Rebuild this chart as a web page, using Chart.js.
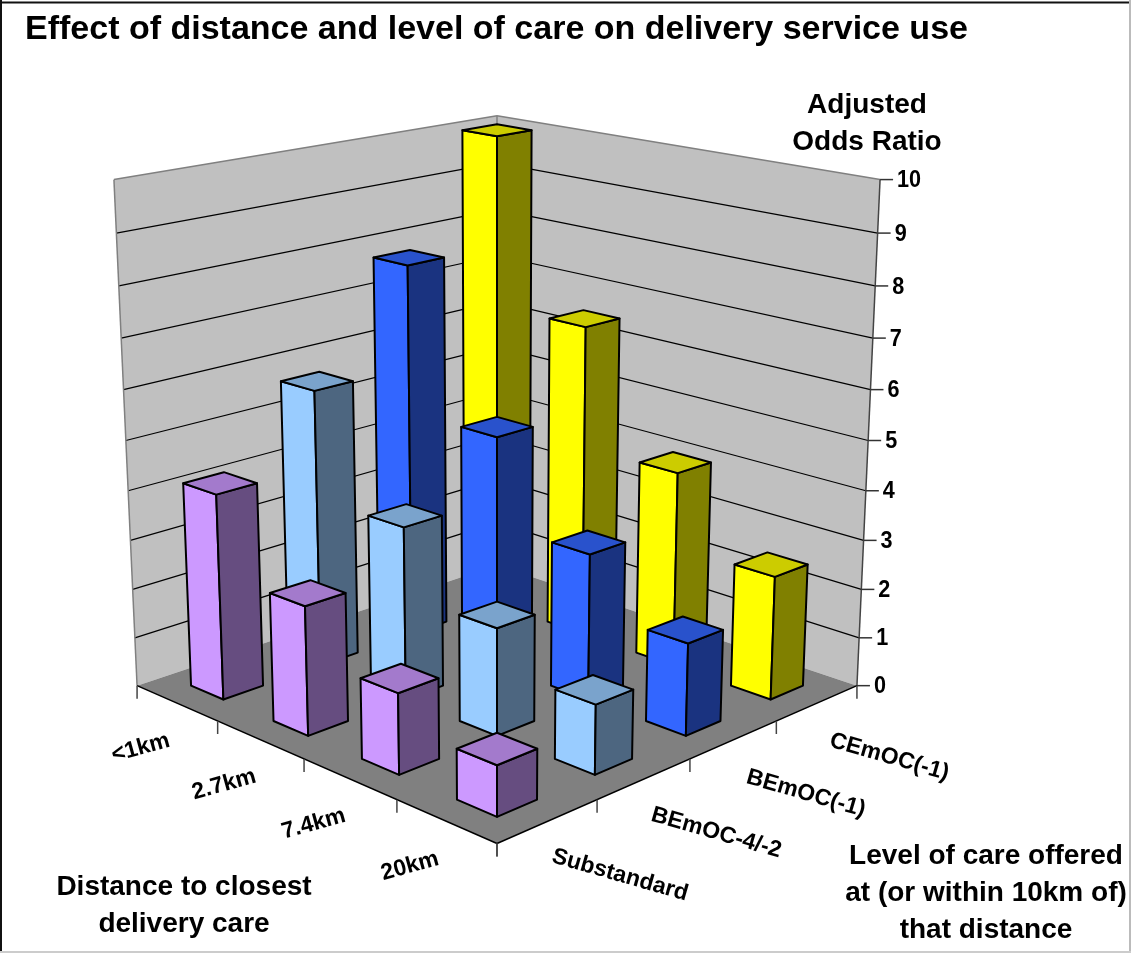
<!DOCTYPE html>
<html><head><meta charset="utf-8">
<style>html,body{margin:0;padding:0;background:#fff;overflow:hidden}canvas{display:block}</style>
<script src="https://cdn.jsdelivr.net/npm/chart.js@4/dist/chart.umd.js"></script>
</head><body><canvas id="c" width="1131" height="953"></canvas>
<script>
const chartTitle = 'Effect of distance and level of care on delivery service use';
const distanceLabels = ['<1km', '2.7km', '7.4km', '20km'];
const levelLabels = ['Substandard', 'BEmOC-4/-2', 'BEmOC(-1)', 'CEmOC(-1)'];
const substandard = [4.15, 2.57, 1.58, 0.97];
const bemoc42 = [5.68, 3.5, 2.14, 1.36];
const bemoc1 = [7.75, 4.75, 2.96, 1.84];
const cemoc1 = [10.0, 6.5, 4.02, 2.51];
const valueTitle = ['Adjusted', 'Odds Ratio'];
const distanceTitle = ['Distance to closest', 'delivery care'];
const levelTitle = ['Level of care offered', 'at (or within 10km of)', 'that distance'];

const FONT = '"Liberation Sans", Arial, sans-serif';
const BAR_MARGIN = 0.3;   // gap round a bar, as a share of its floor cell

// Camera: the box corners as they appear on the page, [u, v, h, px, py]; u,v,h run 0..1.
const cameraAnchors = [
  [0,0,0,137,684],[1,0,0,497,845],[1,1,0,857,684],[0,1,0,497,567],
  [0,0,1,114,180],[0,1,1,497,115],[1,1,1,880,180]
];
function solveCamera(anchors){
  const n = 11, A = Array.from({length:n},()=>new Array(n+1).fill(0));
  const add = (r,t)=>{for(let i=0;i<n;i++){for(let j=0;j<n;j++)A[i][j]+=r[i]*r[j];A[i][n]+=r[i]*t;}};
  for(const [u,v,h,px,py] of anchors){
    const x=px/1000,y=py/1000;
    add([u,v,h,1,0,0,0,0,-x*u,-x*v,-x*h],x);
    add([0,0,0,0,u,v,h,1,-y*u,-y*v,-y*h],y);
  }
  for(let i=0;i<n;i++){
    let p=i;for(let r=i+1;r<n;r++)if(Math.abs(A[r][i])>Math.abs(A[p][i]))p=r;
    [A[i],A[p]]=[A[p],A[i]];
    for(let r=0;r<n;r++){if(r===i)continue;const f=A[r][i]/A[i][i];for(let c=i;c<=n;c++)A[r][c]-=f*A[i][c];}
  }
  return A.map((row,i)=>row[n]/row[i]);
}
const M = solveCamera(cameraAnchors);
function project(u,v,h){
  const w=M[8]*u+M[9]*v+M[10]*h+1;
  return [1000*(M[0]*u+M[1]*v+M[2]*h+M[3])/w, 1000*(M[4]*u+M[5]*v+M[6]*h+M[7])/w];
}
const frac=(scale,value)=>scale.getDecimalForPixel(scale.getPixelForValue(value));
function poly(ctx,pts,fill,stroke,lw){
  ctx.beginPath();pts.forEach((p,i)=>i?ctx.lineTo(p[0],p[1]):ctx.moveTo(p[0],p[1]));ctx.closePath();
  if(fill){ctx.fillStyle=fill;ctx.fill();}
  if(stroke){ctx.strokeStyle=stroke;ctx.lineWidth=lw;ctx.stroke();}
}
function seg(ctx,a,b,color,lw){
  ctx.beginPath();ctx.moveTo(a[0],a[1]);ctx.lineTo(b[0],b[1]);ctx.strokeStyle=color;ctx.lineWidth=lw;ctx.stroke();
}

class Bar3DController extends Chart.BarController {
  draw(){
    const chart=this.chart, ctx=chart.ctx, meta=this.getMeta(), ds=this.getDataset();
    const cell=0.25, m=BAR_MARGIN*cell;
    const vc=frac(chart.scales.levels,this.index);
    const v0=vc-cell/2+m, v1=vc+cell/2-m;
    ctx.save();ctx.lineJoin='round';
    meta.data.forEach((el,i)=>{
      const uc=frac(chart.scales.x,i), u0=uc-cell/2+m, u1=uc+cell/2-m;
      const h=frac(chart.scales.y,this.getParsed(i).y);
      const L0=project(u0,v0,0),F0=project(u1,v0,0),R0=project(u1,v1,0);
      const L=project(u0,v0,h),F=project(u1,v0,h),R=project(u1,v1,h),B=project(u0,v1,h);
      poly(ctx,[L0,F0,F,L],ds.backgroundColor,'#000',2);
      poly(ctx,[F0,R0,R,F],ds.sideColor,'#000',2);
      poly(ctx,[L,F,R,B],ds.topColor,'#000',2);
    });
    ctx.restore();
  }
}
Bar3DController.id='bar3d';
Bar3DController.defaults=Object.assign({},Chart.BarController.defaults);
Bar3DController.overrides=Chart.BarController.overrides;
Chart.register(Bar3DController);

const roomPlugin={
  id:'room',
  beforeDatasetsDraw(chart){
    const ctx=chart.ctx, ticks=chart.scales.y.ticks, y=chart.scales.y;
    ctx.save();
    poly(ctx,[project(0,0,0),project(0,1,0),project(0,1,1),project(0,0,1)],'#C0C0C0');
    poly(ctx,[project(0,1,0),project(1,1,0),project(1,1,1),project(0,1,1)],'#C0C0C0');
    poly(ctx,[project(0,0,0),project(1,0,0),project(1,1,0),project(0,1,0)],'#808080');
    ticks.forEach(t=>{
      const h=frac(y,t.value);
      if(h>0&&h<1){
        seg(ctx,project(0,0,h),project(0,1,h),'#000',1.2);
        seg(ctx,project(0,1,h),project(1,1,h),'#000',1.2);
      }
    });
    seg(ctx,project(0,0,1),project(0,1,1),'#808080',1.5);
    seg(ctx,project(0,1,1),project(1,1,1),'#808080',1.5);
    seg(ctx,project(0,0,0),project(0,0,1),'#808080',1.5);
    seg(ctx,project(0,1,0),project(0,1,1),'#808080',1.5);
    seg(ctx,project(1,1,0),project(1,1,1),'#444',1.5);
    seg(ctx,project(0,0,0),project(1,0,0),'#000',1.5);
    seg(ctx,project(1,0,0),project(1,1,0),'#000',1.5);
    // floor tick marks
    for(let i=0;i<=4;i++){
      const a=project(i/4,0,0), b=project(1,i/4,0);
      seg(ctx,a,[a[0],a[1]+13],'#444',1.5);
      seg(ctx,b,[b[0],b[1]+13],'#444',1.5);
    }
    ctx.restore();
  },
  afterDraw(chart){
    const ctx=chart.ctx, s=chart.scales;
    ctx.save();
    ctx.fillStyle='#000';ctx.textBaseline='middle';
    // value axis ticks
    ctx.font='bold 24px '+FONT;ctx.textAlign='left';
    s.y.ticks.forEach(t=>{
      const p=project(1,1,frac(s.y,t.value));
      seg(ctx,p,[p[0]+13,p[1]],'#333',1.5);
      ctx.save();ctx.translate(p[0]+17,p[1]+1);ctx.scale(0.9,1);
      ctx.fillText(String(t.value),0,0);ctx.restore();
    });
    // floor axis labels, laid along the floor edges
    const rotated=(text,x,y,deg)=>{
      ctx.save();ctx.translate(x,y);ctx.rotate(deg*Math.PI/180);
      ctx.textAlign='center';ctx.font='bold 23px '+FONT;ctx.fillText(text,0,0);ctx.restore();
    };
    distanceLabels.forEach((t,i)=>{
      const p=project(frac(s.x,i),0,0);
      rotated(t,p[0]-36,p[1]+45,-15.5);
    });
    levelLabels.forEach((t,i)=>{
      const p=project(1,frac(s.levels,i),0);
      rotated(t,p[0]+72,p[1]+54,16);
    });
    // axis titles
    ctx.textAlign='center';ctx.font='bold 28px '+FONT;
    valueTitle.forEach((t,i)=>ctx.fillText(t,867,105+37*i));
    distanceTitle.forEach((t,i)=>ctx.fillText(t,184,887+37*i));
    levelTitle.forEach((t,i)=>ctx.fillText(t,986,856+37*i));
    // chart frame
    seg(ctx,[0,2.5],[1131,2.5],'#111',2);
    seg(ctx,[1,0],[1,953],'#111',2);
    seg(ctx,[1130,0],[1130,953],'#bbb',2);
    seg(ctx,[0,952],[1131,952],'#ccc',2);
    ctx.restore();
  }
};

new Chart(document.getElementById('c'),{
  type:'bar3d',
  data:{
    labels:distanceLabels,
    datasets:[
      {label:levelLabels[0],data:substandard,backgroundColor:'#CC99FF',sideColor:'#664D80',topColor:'#A37ACC'},
      {label:levelLabels[1],data:bemoc42,backgroundColor:'#99CCFF',sideColor:'#4D6680',topColor:'#7AA3CC'},
      {label:levelLabels[2],data:bemoc1,backgroundColor:'#3366FF',sideColor:'#1A3380',topColor:'#2952CC'},
      {label:levelLabels[3],data:cemoc1,backgroundColor:'#FFFF00',sideColor:'#808000',topColor:'#CCCC00'}
    ]
  },
  options:{
    responsive:false,animation:false,
    layout:{padding:{left:25,top:0,right:0,bottom:0}},
    plugins:{
      legend:{display:false},tooltip:{enabled:false},
      title:{display:true,text:chartTitle,align:'start',color:'#000',
        font:{family:FONT,size:34,weight:'bold'},padding:{top:9,bottom:10}}
    },
    scales:{
      x:{type:'category',display:false,offset:true},
      levels:{type:'category',axis:'x',position:'bottom',labels:levelLabels,display:false,offset:true},
      y:{type:'linear',display:false,min:0,max:10,ticks:{stepSize:1}}
    }
  },
  plugins:[roomPlugin]
});
</script></body></html>
